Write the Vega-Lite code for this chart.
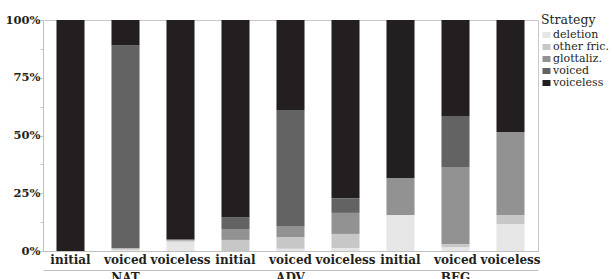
{
  "$schema": "https://vega.github.io/schema/vega-lite/v6.json",
  "width": 495,
  "height": 231,
  "autosize": {"type": "none"},
  "padding": {"left": 43, "top": 20, "right": 77, "bottom": 28},
  "background": "white",
  "config": {
    "font": "DejaVu Serif",
    "view": {"stroke": "#c8c8c8", "strokeWidth": 1},
    "axis": {"labelFont": "DejaVu Serif", "domainColor": "#c0c0c0", "tickColor": "#c0c0c0", "labelColor": "#231f20", "grid": false, "title": null},
    "legend": {"labelFont": "DejaVu Serif", "titleFont": "DejaVu Serif"}
  },
  "layer": [
    {
      "data": {
        "values": [
          {"bar": "NAT initial", "group": "NAT", "cond": "initial", "strategy": "voiceless", "rank": 5, "pct": 100},
          {"bar": "NAT voiced", "group": "NAT", "cond": "voiced", "strategy": "deletion", "rank": 1, "pct": 0.5},
          {"bar": "NAT voiced", "group": "NAT", "cond": "voiced", "strategy": "other fric.", "rank": 2, "pct": 0.7},
          {"bar": "NAT voiced", "group": "NAT", "cond": "voiced", "strategy": "voiced", "rank": 4, "pct": 87.8},
          {"bar": "NAT voiced", "group": "NAT", "cond": "voiced", "strategy": "voiceless", "rank": 5, "pct": 11},
          {"bar": "NAT voiceless", "group": "NAT", "cond": "voiceless", "strategy": "deletion", "rank": 1, "pct": 4},
          {"bar": "NAT voiceless", "group": "NAT", "cond": "voiceless", "strategy": "other fric.", "rank": 2, "pct": 0.5},
          {"bar": "NAT voiceless", "group": "NAT", "cond": "voiceless", "strategy": "glottaliz.", "rank": 3, "pct": 0.5},
          {"bar": "NAT voiceless", "group": "NAT", "cond": "voiceless", "strategy": "voiceless", "rank": 5, "pct": 95},
          {"bar": "ADV initial", "group": "ADV", "cond": "initial", "strategy": "other fric.", "rank": 2, "pct": 4.8},
          {"bar": "ADV initial", "group": "ADV", "cond": "initial", "strategy": "glottaliz.", "rank": 3, "pct": 4.7},
          {"bar": "ADV initial", "group": "ADV", "cond": "initial", "strategy": "voiced", "rank": 4, "pct": 5.2},
          {"bar": "ADV initial", "group": "ADV", "cond": "initial", "strategy": "voiceless", "rank": 5, "pct": 85.3},
          {"bar": "ADV voiced", "group": "ADV", "cond": "voiced", "strategy": "deletion", "rank": 1, "pct": 1},
          {"bar": "ADV voiced", "group": "ADV", "cond": "voiced", "strategy": "other fric.", "rank": 2, "pct": 5.1},
          {"bar": "ADV voiced", "group": "ADV", "cond": "voiced", "strategy": "glottaliz.", "rank": 3, "pct": 4.7},
          {"bar": "ADV voiced", "group": "ADV", "cond": "voiced", "strategy": "voiced", "rank": 4, "pct": 50.2},
          {"bar": "ADV voiced", "group": "ADV", "cond": "voiced", "strategy": "voiceless", "rank": 5, "pct": 39},
          {"bar": "ADV voiceless", "group": "ADV", "cond": "voiceless", "strategy": "deletion", "rank": 1, "pct": 1.3},
          {"bar": "ADV voiceless", "group": "ADV", "cond": "voiceless", "strategy": "other fric.", "rank": 2, "pct": 6.1},
          {"bar": "ADV voiceless", "group": "ADV", "cond": "voiceless", "strategy": "glottaliz.", "rank": 3, "pct": 9.1},
          {"bar": "ADV voiceless", "group": "ADV", "cond": "voiceless", "strategy": "voiced", "rank": 4, "pct": 6.3},
          {"bar": "ADV voiceless", "group": "ADV", "cond": "voiceless", "strategy": "voiceless", "rank": 5, "pct": 77.2},
          {"bar": "BEG initial", "group": "BEG", "cond": "initial", "strategy": "deletion", "rank": 1, "pct": 15.6},
          {"bar": "BEG initial", "group": "BEG", "cond": "initial", "strategy": "glottaliz.", "rank": 3, "pct": 16},
          {"bar": "BEG initial", "group": "BEG", "cond": "initial", "strategy": "voiceless", "rank": 5, "pct": 68.4},
          {"bar": "BEG voiced", "group": "BEG", "cond": "voiced", "strategy": "deletion", "rank": 1, "pct": 1.7},
          {"bar": "BEG voiced", "group": "BEG", "cond": "voiced", "strategy": "other fric.", "rank": 2, "pct": 1.3},
          {"bar": "BEG voiced", "group": "BEG", "cond": "voiced", "strategy": "glottaliz.", "rank": 3, "pct": 33.4},
          {"bar": "BEG voiced", "group": "BEG", "cond": "voiced", "strategy": "voiced", "rank": 4, "pct": 22},
          {"bar": "BEG voiced", "group": "BEG", "cond": "voiced", "strategy": "voiceless", "rank": 5, "pct": 41.6},
          {"bar": "BEG voiceless", "group": "BEG", "cond": "voiceless", "strategy": "deletion", "rank": 1, "pct": 11.7},
          {"bar": "BEG voiceless", "group": "BEG", "cond": "voiceless", "strategy": "other fric.", "rank": 2, "pct": 3.9},
          {"bar": "BEG voiceless", "group": "BEG", "cond": "voiceless", "strategy": "glottaliz.", "rank": 3, "pct": 35.9},
          {"bar": "BEG voiceless", "group": "BEG", "cond": "voiceless", "strategy": "voiceless", "rank": 5, "pct": 48.5}
        ]
      },
      "mark": {"type": "bar"},
      "encoding": {
        "x": {
          "field": "bar", "type": "nominal",
          "sort": ["NAT initial", "NAT voiced", "NAT voiceless", "ADV initial", "ADV voiced", "ADV voiceless", "BEG initial", "BEG voiced", "BEG voiceless"],
          "scale": {"paddingInner": 0.49, "paddingOuter": 0.245},
          "axis": {"orient": "bottom", "labelAngle": 0, "ticks": false, "labelPadding": 3, "labelFontSize": 12, "labelFontWeight": "bold", "labelExpr": "split(datum.value, ' ')[1]", "domainColor": "#c0c0c0"}
        },
        "y": {
          "field": "pct", "type": "quantitative", "stack": "normalize",
          "scale": {"domain": [0, 1]},
          "axis": {"values": [0, 0.125, 0.25, 0.375, 0.5, 0.625, 0.75, 0.875, 1], "format": ".0%", "labelExpr": "(round(datum.value*1000) % 250 == 0) ? datum.label : ''", "tickSize": 3, "labelPadding": 0, "labelFontSize": 11.5, "labelFontWeight": "bold"}
        },
        "color": {
          "field": "strategy", "type": "nominal",
          "scale": {"domain": ["deletion", "other fric.", "glottaliz.", "voiced", "voiceless"], "range": ["#e6e6e6", "#c7c7c7", "#929292", "#636363", "#231f20"]},
          "legend": {
            "title": "Strategy", "orient": "none", "legendX": 498, "legendY": -6,
            "padding": 0, "titleFontSize": 12.5, "titleFontWeight": "normal", "titleColor": "#231f20", "titlePadding": 3,
            "labelFontSize": 11, "labelColor": "#231f20", "labelOffset": 1,
            "symbolType": "M-1,-0.75L1,-0.75L1,0.75L-1,0.75Z", "symbolSize": 64, "symbolStrokeWidth": 0, "rowPadding": 0
          }
        },
        "order": {"field": "rank", "type": "quantitative"}
      }
    },
    {
      "data": {"values": [{"group": "NAT"}, {"group": "ADV"}, {"group": "BEG"}]},
      "mark": {"type": "rule", "opacity": 0},
      "encoding": {
        "x": {
          "field": "group", "type": "nominal", "sort": ["NAT", "ADV", "BEG"],
          "scale": {"paddingInner": 0, "paddingOuter": 0},
          "axis": {"orient": "bottom", "offset": 19, "ticks": false, "labelAngle": 0, "labelPadding": 2, "labelFontSize": 12, "labelFontWeight": "bold", "domainColor": "#c0c0c0"}
        }
      }
    }
  ],
  "resolve": {"scale": {"x": "independent"}, "axis": {"x": "independent"}}
}
